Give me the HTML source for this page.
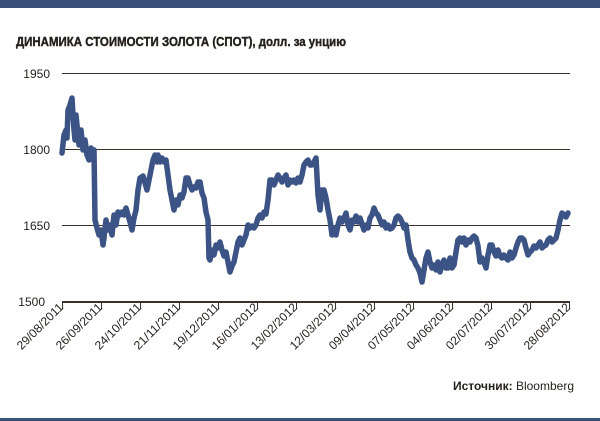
<!DOCTYPE html>
<html><head><meta charset="utf-8"><style>
body{margin:0;width:600px;height:421px;background:#fff;overflow:hidden;}
svg{display:block}
</style></head><body>
<svg width="600" height="421" viewBox="0 0 600 421" xmlns="http://www.w3.org/2000/svg">
<rect x="0" y="0" width="600" height="8" fill="#3b5078"/>
<rect x="0" y="418" width="600" height="3" fill="#3b5078"/>
<text x="16" y="46" font-family="Liberation Sans Narrow, Liberation Sans, sans-serif" font-weight="bold" font-size="13" fill="#231f1a" stroke="#231f1a" stroke-width="0.4" textLength="330" lengthAdjust="spacingAndGlyphs">ДИНАМИКА СТОИМОСТИ ЗОЛОТА (СПОТ), долл. за унцию</text>
<g font-family="Liberation Sans, sans-serif" font-size="12" fill="#231f1a" text-anchor="end">
<text x="50" y="78">1950</text><text x="50" y="154">1800</text><text x="50" y="230">1650</text><text x="45" y="306">1500</text>
</g>
<g stroke="#3a322a" stroke-width="1">
<line x1="62" y1="73.5" x2="570" y2="73.5"/><line x1="62" y1="149.5" x2="570" y2="149.5"/><line x1="62" y1="225.5" x2="570" y2="225.5"/>
</g>
<line x1="62" y1="302" x2="570" y2="302" stroke="#3a322a" stroke-width="2"/>
<g stroke="#3a322a" stroke-width="1">
<line x1="62.5" y1="302" x2="62.5" y2="309"/><line x1="101.5" y1="302" x2="101.5" y2="309"/><line x1="140.5" y1="302" x2="140.5" y2="309"/><line x1="179.5" y1="302" x2="179.5" y2="309"/><line x1="218.5" y1="302" x2="218.5" y2="309"/><line x1="257.5" y1="302" x2="257.5" y2="309"/><line x1="296.5" y1="302" x2="296.5" y2="309"/><line x1="335.5" y1="302" x2="335.5" y2="309"/><line x1="374.5" y1="302" x2="374.5" y2="309"/><line x1="413.5" y1="302" x2="413.5" y2="309"/><line x1="452.5" y1="302" x2="452.5" y2="309"/><line x1="491.5" y1="302" x2="491.5" y2="309"/><line x1="530.5" y1="302" x2="530.5" y2="309"/><line x1="569.5" y1="302" x2="569.5" y2="309"/>
</g>
<g font-family="Liberation Sans Narrow, Liberation Sans, sans-serif" font-size="12" fill="#231f1a" text-anchor="end">
<text transform="translate(64,308) rotate(-45)" textLength="60" lengthAdjust="spacingAndGlyphs">29/08/2011</text>
<text transform="translate(103,308) rotate(-45)" textLength="60" lengthAdjust="spacingAndGlyphs">26/09/2011</text>
<text transform="translate(142,308) rotate(-45)" textLength="60" lengthAdjust="spacingAndGlyphs">24/10/2011</text>
<text transform="translate(181,308) rotate(-45)" textLength="60" lengthAdjust="spacingAndGlyphs">21/11/2011</text>
<text transform="translate(220,308) rotate(-45)" textLength="60" lengthAdjust="spacingAndGlyphs">19/12/2011</text>
<text transform="translate(259,308) rotate(-45)" textLength="60" lengthAdjust="spacingAndGlyphs">16/01/2012</text>
<text transform="translate(298,308) rotate(-45)" textLength="60" lengthAdjust="spacingAndGlyphs">13/02/2012</text>
<text transform="translate(337,308) rotate(-45)" textLength="60" lengthAdjust="spacingAndGlyphs">12/03/2012</text>
<text transform="translate(376,308) rotate(-45)" textLength="60" lengthAdjust="spacingAndGlyphs">09/04/2012</text>
<text transform="translate(415,308) rotate(-45)" textLength="60" lengthAdjust="spacingAndGlyphs">07/05/2012</text>
<text transform="translate(454,308) rotate(-45)" textLength="60" lengthAdjust="spacingAndGlyphs">04/06/2012</text>
<text transform="translate(493,308) rotate(-45)" textLength="60" lengthAdjust="spacingAndGlyphs">02/07/2012</text>
<text transform="translate(532,308) rotate(-45)" textLength="60" lengthAdjust="spacingAndGlyphs">30/07/2012</text>
<text transform="translate(571,308) rotate(-45)" textLength="60" lengthAdjust="spacingAndGlyphs">28/08/2012</text>
</g>
<text x="574" y="390" text-anchor="end" font-family="Liberation Sans, sans-serif" font-size="12" fill="#231f1a"><tspan font-weight="bold">Источник:</tspan> Bloomberg</text>
<polyline fill="none" stroke="#3b5385" stroke-width="5.5" stroke-linejoin="round" stroke-linecap="round" points="62,153 64,135 66,130 67,138 68,110 70,105 72,98 73,115 74,130 75,140 76,115 78,135 79,145 81,130 83,150 85,140 87,155 89,160 91,148 93,160 94,150 95,220 97,228 99,235 101,230 103,245 104,238 106,220 108,230 110,225 112,235 114,215 116,225 118,212 120,215 122,212 124,215 126,208 128,215 130,222 132,230 134,218 136,210 138,190 140,178 143,176 145,183 147,190 149,180 151,170 153,160 155,155 157,162 158,155 160,162 162,158 164,162 166,160 168,175 170,190 172,200 174,210 176,200 178,205 180,195 182,198 184,192 186,178 188,178 190,185 192,190 194,187 196,188 198,182 200,182 202,193 204,198 206,212 208,220 209,258 210,260 212,250 214,255 216,245 218,248 220,242 222,250 224,256 226,252 228,262 230,272 232,266 234,262 236,252 238,242 240,238 242,245 244,240 246,235 248,225 250,228 252,226 254,228 256,225 258,218 260,215 262,218 264,212 266,214 268,200 270,180 272,180 274,185 276,180 278,175 280,178 282,182 284,178 286,175 288,185 290,180 292,182 294,180 296,183 298,178 300,182 302,175 304,165 306,162 308,160 310,165 312,165 314,162 316,158 318,195 320,210 322,190 324,190 326,198 328,210 330,220 332,235 334,228 336,235 338,225 340,218 342,222 344,218 346,213 348,225 350,230 352,220 354,222 356,216 358,222 360,218 362,224 364,230 366,225 368,228 370,218 372,215 374,208 376,213 378,215 380,220 382,225 384,222 386,228 388,225 390,229 392,228 394,225 396,218 398,216 400,218 402,222 404,228 406,225 408,240 410,252 412,258 414,260 416,265 418,268 420,273 422,282 424,270 426,258 428,252 430,262 432,268 434,265 436,270 438,262 440,272 442,265 444,260 446,268 448,268 450,258 452,268 454,265 456,252 458,240 460,238 462,242 464,238 466,245 468,240 470,242 472,238 474,236 476,238 478,246 480,262 482,258 484,262 486,268 488,255 490,245 492,245 494,252 496,256 498,250 500,256 502,258 504,255 506,258 508,260 510,252 512,258 514,255 516,248 518,242 520,238 522,238 524,240 526,248 528,255 530,252 532,250 534,246 536,248 538,245 540,242 542,248 544,246 546,245 548,240 550,238 552,242 554,240 556,238 558,230 560,220 562,213 564,215 566,217 568,213"/>
</svg>
</body></html>
